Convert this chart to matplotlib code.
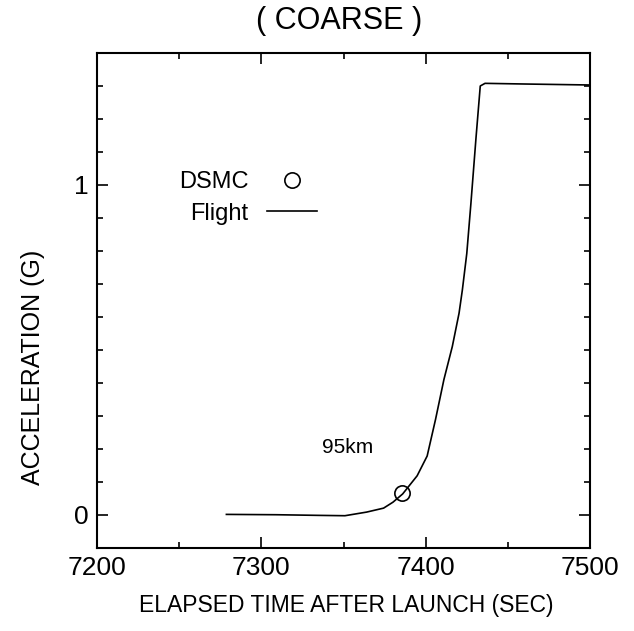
import matplotlib
matplotlib.use('Agg')
import matplotlib.pyplot as plt
from matplotlib.ticker import MultipleLocator

# Flight acceleration curve
flight_t = [7278.7, 7309, 7335.5, 7350.8, 7364, 7374.3, 7380, 7385.9, 7394.7, 7400.8,
            7405.9, 7411.0, 7416.1, 7420.2, 7422.2, 7424.9, 7427.4, 7430.5, 7433.1,
            7436, 7460, 7500]
flight_g = [0.001, 0.0, -0.002, -0.003, 0.008, 0.020, 0.038, 0.063, 0.118, 0.178,
            0.289, 0.410, 0.510, 0.611, 0.681, 0.792, 0.943, 1.142, 1.300,
            1.308, 1.306, 1.303]

# DSMC point
dsmc_t = [7385.5]
dsmc_g = [0.066]

plt.rcParams['font.family'] = ['Liberation Sans', 'DejaVu Sans']

fig = plt.figure(figsize=(6.34, 6.31), dpi=100)
ax = fig.add_axes([0.153, 0.132, 0.778, 0.784])

ax.plot(flight_t, flight_g, color='black', lw=1.2, label='Flight')
ax.plot(dsmc_t, dsmc_g, 'o', mfc='none', mec='black', ms=11, mew=1.2,
        label='DSMC')

ax.set_xlim(7200, 7500)
ax.set_ylim(-0.1, 1.4)
ax.xaxis.set_major_locator(MultipleLocator(100))
ax.xaxis.set_minor_locator(MultipleLocator(50))
ax.yaxis.set_major_locator(MultipleLocator(1))
ax.yaxis.set_minor_locator(MultipleLocator(0.1))
ax.tick_params(which='both', direction='in', top=True, right=True, width=1.2)
ax.tick_params(which='major', length=8, labelsize=19, pad=6)
ax.tick_params(which='minor', length=4)
for s in ax.spines.values():
    s.set_linewidth(1.5)

ax.set_xlabel('ELAPSED TIME AFTER LAUNCH (SEC)', fontsize=16.5)
ax.xaxis.set_label_coords(0.505, -0.093)
ax.set_ylabel('ACCELERATION (G)', fontsize=18)
ax.yaxis.set_label_coords(-0.105, 0.364)
ax.set_title('( COARSE )', fontsize=22, pad=17, x=0.49)

ax.text(7336.6, 0.205, '95km', fontsize=15, va='center')

handles, labels = ax.get_legend_handles_labels()
leg = ax.legend(handles[::-1], labels[::-1], markerfirst=False, frameon=False,
                fontsize=17, loc='upper left', bbox_to_anchor=(0.123, 0.804),
                handlelength=2.1, labelspacing=0.4, handletextpad=0.8)

fig.savefig('out.png', dpi=100)
